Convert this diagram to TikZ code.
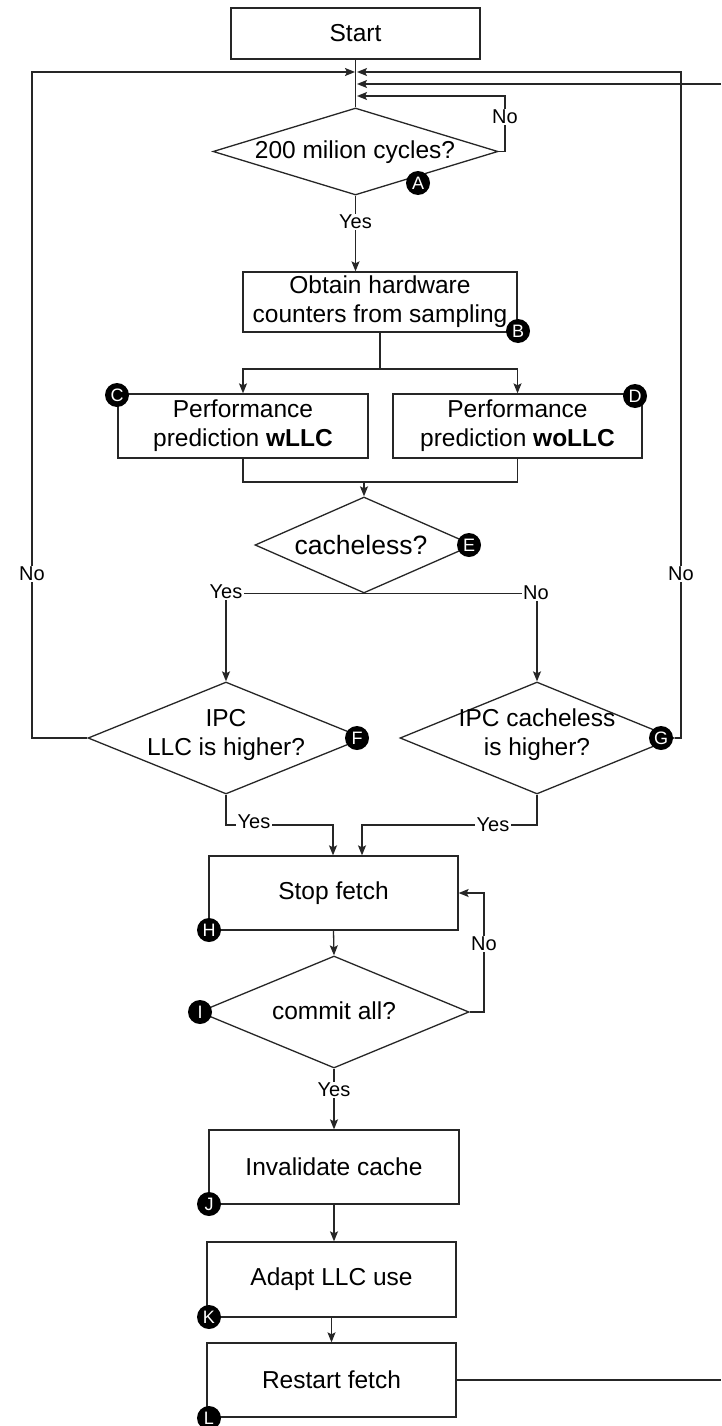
\documentclass[tikz,border=0pt]{standalone}
\usepackage{fontspec}
\setmainfont{Liberation Sans}
\usetikzlibrary{shapes.geometric,arrows.meta}
\begin{document}
\begin{tikzpicture}[x=1pt,y=-1pt,
 line/.style={draw=black!85, line width=1.3pt},
 arr/.style={line, -{Stealth[length=10pt,width=8pt,inset=2pt]}},
 stepbox/.style={draw=black!85, line width=1.3pt, rectangle, inner sep=0pt, align=center, font=\fontsize{24.5}{29}\selectfont},
 dia/.style={draw=black!85, line width=1.3pt, diamond, inner sep=0pt},
 txt/.style={inner sep=0pt, align=center, font=\fontsize{24.5}{29}\selectfont},
 lbl/.style={fill=white, inner sep=1.5pt, font=\fontsize{20}{22}\selectfont},
 badge/.style={circle, fill=black, text=white, minimum size=24pt, inner sep=0pt, font=\fontsize{18}{18}\selectfont}]
\fill[white] (0,0) rectangle (721,1426);
\useasboundingbox (0,0) rectangle (721,1426);

% boxes and decisions
\node[stepbox, minimum width=249pt, minimum height=51pt] (start) at (355.5,33.5) {Start};
\node[dia, minimum width=285pt, minimum height=87pt] (A) at (355.5,151.5) {};
\node[txt] (Atxt) at (355,152) {200 milion cycles?};
\node[stepbox, minimum width=274pt, minimum height=60pt] (B) at (380,302) {Obtain hardware\\counters from sampling};
\node[stepbox, minimum width=250pt, minimum height=64pt] (C) at (243,426) {Performance\\prediction \textbf{wLLC}};
\node[stepbox, minimum width=249pt, minimum height=64pt] (D) at (517.5,426) {Performance\\prediction \textbf{woLLC}};
\node[dia, minimum width=218pt, minimum height=96pt] (E) at (364,545) {};
\node[txt, font=\fontsize{26.5}{30}\selectfont] (Etxt) at (361,545) {cacheless?};
\node[dia, minimum width=276pt, minimum height=112pt] (F) at (226,738) {};
\node[txt] (Ftxt) at (226,735) {IPC\\LLC is higher?};
\node[dia, minimum width=274pt, minimum height=112pt] (G) at (537,738) {};
\node[txt] (Gtxt) at (537,735) {IPC cacheless\\is higher?};
\node[stepbox, minimum width=249pt, minimum height=74pt] (stop) at (333.5,893) {Stop fetch};
\node[dia, minimum width=270pt, minimum height=112pt] (I) at (334,1012) {};
\node[txt] (Itxt) at (334,1011) {commit all?};
\node[stepbox, minimum width=250pt, minimum height=74pt] (inv) at (334,1167) {Invalidate cache};
\node[stepbox, minimum width=249pt, minimum height=75pt] (adapt) at (331.5,1279.5) {Adapt LLC use};
\node[stepbox, minimum width=249pt, minimum height=74pt] (restart) at (331.5,1380) {Restart fetch};

% junction coordinates
\coordinate (jL) at (355,72);
\coordinate (jR) at (357,72);
\coordinate (jT) at (357,84);
\coordinate (jN) at (357,96);
\coordinate (cL) at (32,72);
\coordinate (cR) at (681,72);
\coordinate (cN) at (505,96);
\coordinate (eT) at (721,84);
\coordinate (eR) at (721,1380);
\coordinate (sp) at (380,369);
\coordinate (mg) at (364,482);
\coordinate (s1) at (333,825);
\coordinate (s2) at (362,825);
\coordinate (cI) at (484,893);

% connectors
\draw[line] (start.south) -- (A.north);
\draw[arr] (F.west) -| (cL) -- (jL);
\draw[arr] (G.east) -| (cR) -- (jR);
\draw[arr] (eT) -- (jT);
\draw[arr] (A.east) -| (cN) -- (jN);
\draw[arr] (A.south) -- (A.south |- B.north);
\draw[line] (B.south) -- (sp);
\draw[arr] (sp) -| (C.north);
\draw[arr] (sp) -| (D.north);
\draw[line] (C.south) |- (mg);
\draw[line] (D.south) |- (mg);
\draw[arr] (mg) -- (E.north);
\draw[arr] (E.south) -| (F.north);
\draw[arr] (E.south) -| (G.north);
\draw[arr] (F.south) |- (s1) -- (s1 |- stop.north);
\draw[arr] (G.south) |- (s2) -- (s2 |- stop.north);
\draw[arr] (stop.south) -- (I.north);
\draw[arr] (I.east) -| (cI) -- (stop.east);
\draw[arr] (I.south) -- (inv.north);
\draw[arr] (inv.south) -- (inv.south |- adapt.north);
\draw[arr] (adapt.south) -- (adapt.south |- restart.north);
\draw[line] (restart.east) -- (eR);

% connector labels
\node[lbl] (noA) at (505,117) {No};
\node[lbl] (yesA) at (355.5,222) {Yes};
\node[lbl] (noL) at (32,574) {No};
\node[lbl] (noR) at (681,574) {No};
\node[lbl] (yesE) at (226,592) {Yes};
\node[lbl] (noE) at (536,593) {No};
\node[lbl] (yesF) at (254,822) {Yes};
\node[lbl] (yesG) at (493,825) {Yes};
\node[lbl] (noI) at (484,944) {No};
\node[lbl] (yesI) at (334,1090) {Yes};

% badges
\node[badge] (bA) at (418,183) {A};
\node[badge] (bB) at (518,331) {B};
\node[badge] (bC) at (117,395) {C};
\node[badge] (bD) at (635,396) {D};
\node[badge] (bE) at (469,545) {E};
\node[badge] (bF) at (357,738) {F};
\node[badge] (bG) at (661,738) {G};
\node[badge] (bH) at (209,930) {H};
\node[badge] (bI) at (200,1012) {I};
\node[badge] (bJ) at (209,1204) {J};
\node[badge] (bK) at (209,1317) {K};
\node[badge] (bL) at (209,1418) {L};
\end{tikzpicture}
\end{document}
